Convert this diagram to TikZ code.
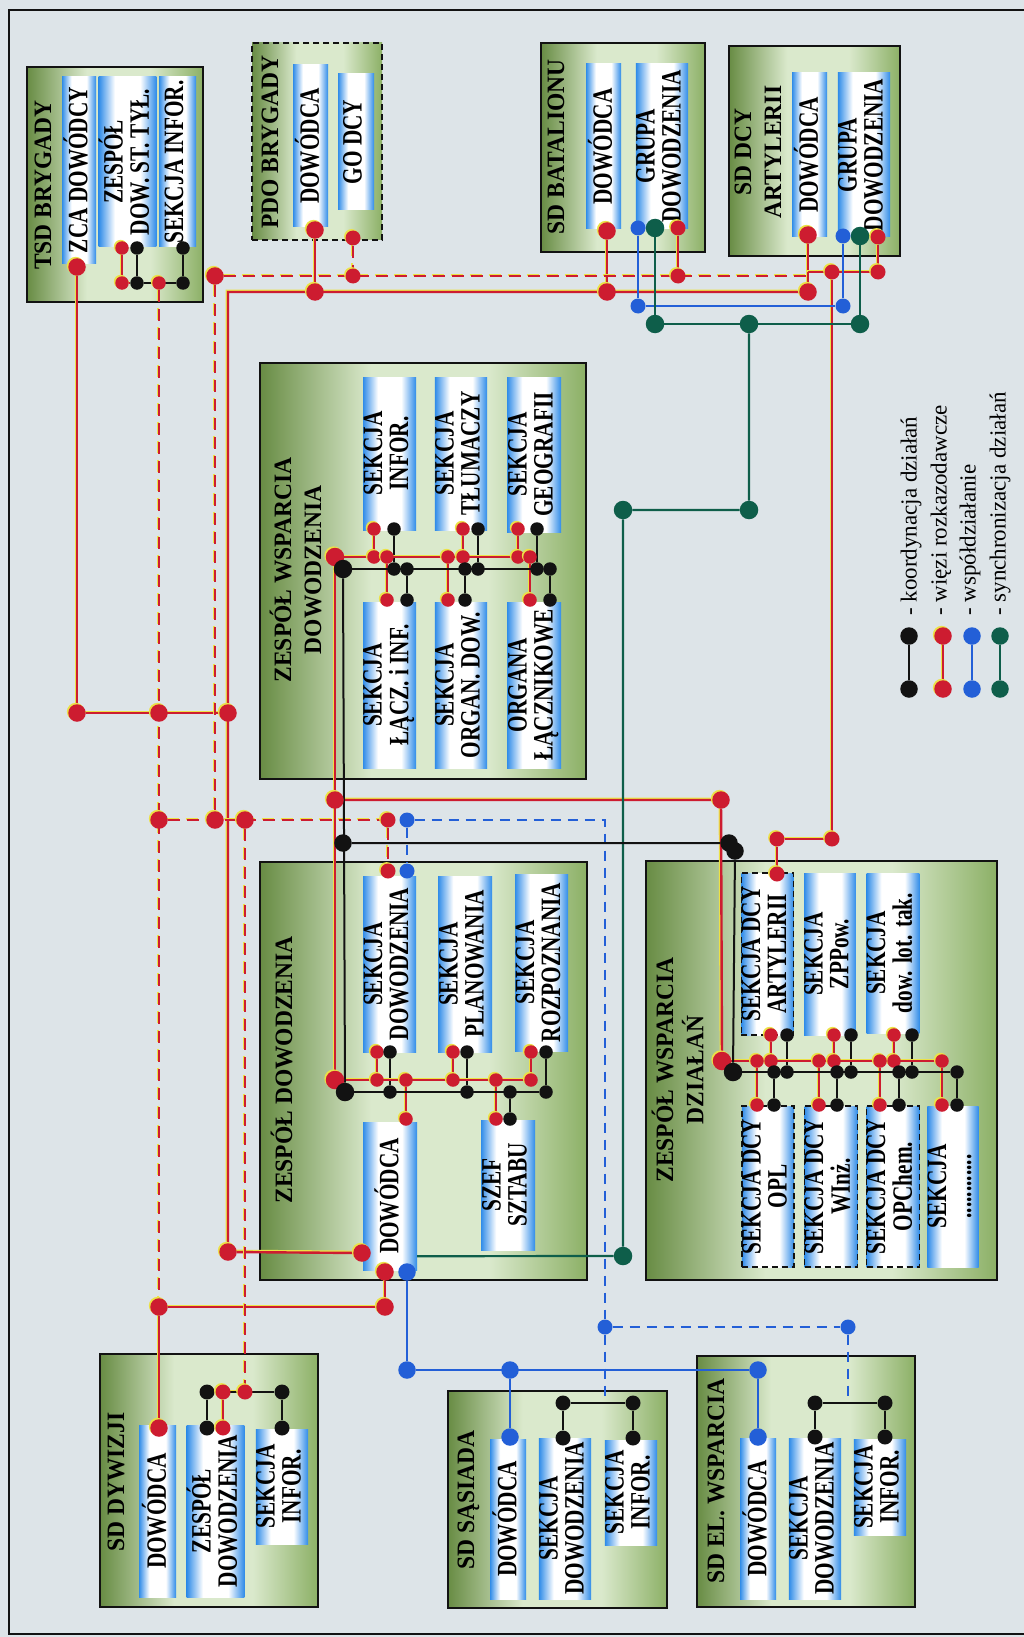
\documentclass[tikz,border=0pt]{standalone}
\usepackage{fontspec}
\usepackage{graphicx}
\setmainfont{Liberation Serif}
\newfontfamily\condfont{Liberation Serif}[FakeStretch=0.76]
\newfontfamily\headfont{Liberation Serif}[FakeStretch=0.94]
\usetikzlibrary{shadows}

\definecolor{bgc}{RGB}{221,228,232}
\definecolor{cred}{RGB}{205,28,48}
\definecolor{cyel}{RGB}{236,226,70}
\definecolor{cblk}{RGB}{18,18,18}
\definecolor{cblue}{RGB}{35,95,215}
\definecolor{cgrn}{RGB}{14,94,74}
\definecolor{bblue}{RGB}{48,140,232}
\definecolor{gdark}{RGB}{104,140,68}
\definecolor{glight}{RGB}{218,233,204}
\definecolor{gmid}{RGB}{140,176,102}

\pgfdeclarehorizontalshading{barshade}{100bp}{color(0bp)=(bblue); color(25bp)=(bblue); color(32bp)=(bblue!50!white); color(39bp)=(white); color(61bp)=(white); color(68bp)=(bblue!50!white); color(75bp)=(bblue); color(100bp)=(bblue)}
\pgfdeclarehorizontalshading{panelshade}{100bp}{color(0bp)=(gdark); color(25bp)=(gdark); color(42bp)=(glight); color(60bp)=(glight); color(75bp)=(gmid); color(100bp)=(gmid)}

\pgfdeclarelayer{panels}
\pgfdeclarelayer{wires}
\pgfsetlayers{panels,wires,main}

\newcommand\barfont{\condfont\bfseries\fontsize{28}{25}\selectfont}
\newcommand\headfontsize{\headfont\bfseries\fontsize{25}{30}\selectfont}
\newcommand\vt[1]{\rotatebox{90}{\begin{tabular}{@{}c@{}}#1\end{tabular}}}

\tikzset{
  panelbox/.style={draw=cblk, line width=1.4pt, shading=panelshade, inner sep=0pt},
  barbox/.style={shading=barshade, inner sep=0pt, font=\barfont},
  dashbar/.style={draw=cblk, line width=1.3pt, dash pattern=on 6pt off 4pt},
  headtext/.style={inner sep=0pt, font=\headfontsize},
  jdot/.style={circle, inner sep=0pt, minimum size=17.5pt},
  bigdot/.style={minimum size=18.5pt},
  mdot/.style={minimum size=15pt},
  smalldot/.style={minimum size=13.5pt},
  rdot/.style={jdot, fill=cred, drop shadow={shadow xshift=-1.4pt, shadow yshift=1.4pt, fill=cyel, opacity=1}},
  kdot/.style={jdot, fill=cblk},
  bdot/.style={jdot, fill=cblue},
  gdot/.style={jdot, fill=cgrn},
  rl/.style={draw=cred, line width=2.4pt, preaction={draw=cyel, line width=2pt, transform canvas={xshift=-1.4pt, yshift=1.4pt}}},
  rdl/.style={draw=cred, line width=2.4pt, dash pattern=on 12pt off 7pt,
    preaction={draw=cyel, line width=2pt, dash pattern=on 12pt off 7pt, transform canvas={xshift=-1.4pt, yshift=1.4pt}}},
  kl/.style={draw=cblk, line width=2pt},
  bl/.style={draw=cblue, line width=2.6pt},
  bdl/.style={draw=cblue, line width=2.4pt, dash pattern=on 10pt off 7pt},
  gl/.style={draw=cgrn, line width=2.2pt},
}

% boxes given by their corners
\newcommand\panelnode[6][]{%
  \pgfmathsetmacro\pcx{(#3+#5)/2}\pgfmathsetmacro\pcy{(#4+#6)/2}%
  \pgfmathsetmacro\pw{#5-#3}\pgfmathsetmacro\ph{#6-#4}%
  \node[panelbox,#1,minimum width=\pw pt,minimum height=\ph pt] (#2) at (\pcx,\pcy) {};}
\newcommand\barnode[7][]{%
  \pgfmathsetmacro\pcx{(#3+#5)/2}\pgfmathsetmacro\pcy{(#4+#6)/2}%
  \pgfmathsetmacro\pw{#5-#3}\pgfmathsetmacro\ph{#6-#4}%
  \node[barbox,#1,minimum width=\pw pt,minimum height=\ph pt] (#2) at (\pcx,\pcy) {\vt{#7}};}

% junction dots
\newcommand\rdt[3][]{\node[rdot,#1] (#2) at (#3) {};}
\newcommand\kdt[3][]{\node[kdot,#1] (#2) at (#3) {};}
\newcommand\bdt[3][]{\node[bdot,#1] (#2) at (#3) {};}
\newcommand\gdt[3][]{\node[gdot,#1] (#2) at (#3) {};}
\newcommand\rlink[5][smalldot]{\rdt[#1]{#2}{#3}\rdt[#1]{#4}{#5}%
  \begin{pgfonlayer}{wires}\draw[rl] (#2) -- (#4);\end{pgfonlayer}}
\newcommand\klink[5][smalldot]{\kdt[#1]{#2}{#3}\kdt[#1]{#4}{#5}%
  \begin{pgfonlayer}{wires}\draw[kl] (#2) -- (#4);\end{pgfonlayer}}

\begin{document}
\begin{tikzpicture}[x=1pt,y=-1pt]
\useasboundingbox (0,0) rectangle (1024,1637);

\begin{pgfonlayer}{panels}
\fill[bgc] (0,0) rectangle (1024,1637);
\draw[cblk, line width=1.5pt] (1024,10) -- (9,10) -- (9,1634) -- (1024,1634);

% TSD BRYGADY
\panelnode{tsd}{27}{67}{203}{302}
\node[headtext] (tsdT) at (45,185) {\vt{TSD BRYGADY}};
\barnode{zca}{62}{77}{96}{263}{ZCA DOWÓDCY}
\barnode{zdst}{102}{77}{153}{247}{ZESPÓŁ\\DOW. ST. TYŁ.}
\barnode{tsdI}{159}{77}{196}{247}{SEKCJA INFOR.}

% PDO BRYGADY
\panelnode[dash pattern=on 6pt off 4pt]{pdo}{252}{43}{382}{240}
\node[headtext] (pdoT) at (272,142) {\vt{PDO BRYGADY}};
\barnode{pdoD}{293}{65}{328}{227}{DOWÓDCA}
\barnode{pdoG}{338}{74}{374}{210}{GO DCY}

% SD BATALIONU
\panelnode{bat}{541}{43}{705}{252}
\node[headtext] (batT) at (558,147) {\vt{SD BATALIONU}};
\barnode{batD}{586}{64}{621}{229}{DOWÓDCA}
\barnode{batG}{637}{64}{687}{229}{GRUPA\\DOWODZENIA}

% SD DCY ARTYLERII
\panelnode{art}{729}{46}{900}{256}
\node[headtext] (artT) at (760,152) {\vt{SD DCY\\ARTYLERII}};
\barnode{artD}{792}{73}{827}{237}{DOWÓDCA}
\barnode{artG}{839}{73}{889}{237}{GRUPA\\DOWODZENIA}

% ZESPÓŁ WSPARCIA DOWODZENIA
\panelnode{zwd}{260}{363}{586}{779}
\node[headtext] (zwdT) at (300,570) {\vt{ZESPÓŁ WSPARCIA\\DOWODZENIA}};
\barnode{sinf}{363}{377}{416}{530}{SEKCJA\\INFOR.}
\barnode{stlum}{435}{377}{487}{530}{SEKCJA\\TŁUMACZY}
\barnode{sgeo}{507}{377}{561}{532}{SEKCJA\\GEOGRAFII}
\barnode{slacz}{363}{602}{416}{768}{SEKCJA\\ŁĄCZ. i INF.}
\barnode{sorg}{435}{602}{487}{768}{SEKCJA\\ORGAN. DOW.}
\barnode{olacz}{507}{602}{561}{768}{ORGANA\\ŁĄCZNIKOWE}

% ZESPÓŁ DOWODZENIA
\panelnode{zd}{260}{862}{587}{1280}
\node[headtext] (zdT) at (286,1070) {\vt{ZESPÓŁ DOWODZENIA}};
\barnode{sdow}{363}{876}{416}{1052}{SEKCJA\\DOWODZENIA}
\barnode{splan}{438}{876}{492}{1052}{SEKCJA\\PLANOWANIA}
\barnode{sroz}{515}{874}{568}{1051}{SEKCJA\\ROZPOZNANIA}
\barnode{zdD}{363}{1122}{417}{1270}{DOWÓDCA}
\barnode{szef}{481}{1120}{535}{1250}{SZEF\\SZTABU}

% ZESPÓŁ WSPARCIA DZIAŁAŃ
\panelnode{zwdz}{646}{861}{997}{1280}
\node[headtext] (zwdzT) at (682,1070) {\vt{ZESPÓŁ WSPARCIA\\DZIAŁAŃ}};
\barnode[dashbar]{sart}{742}{873}{793}{1035}{SEKCJA DCY\\ARTYLERII}
\barnode{szpp}{805}{873}{855}{1035}{SEKCJA\\ZPPow.}
\barnode{slot}{868}{873}{918}{1033}{SEKCJA\\dow. lot. tak.}
\barnode[dashbar]{sopl}{743}{1106}{793}{1267}{SEKCJA DCY\\OPL}
\barnode[dashbar]{sinz}{806}{1106}{856}{1267}{SEKCJA DCY\\WInż.}
\barnode[dashbar]{sopch}{868}{1106}{918}{1267}{SEKCJA DCY\\OPChem.}
\barnode{sdots}{928}{1106}{978}{1267}{SEKCJA\\............}

% SD DYWIZJI
\panelnode{dyw}{100}{1354}{318}{1607}
\node[headtext] (dywT) at (118,1482) {\vt{SD DYWIZJI}};
\barnode{dywD}{139}{1425}{176}{1597}{DOWÓDCA}
\barnode{dywZ}{190}{1425}{241}{1597}{ZESPÓŁ\\DOWODZENIA}
\barnode{dywI}{257}{1429}{307}{1544}{SEKCJA\\INFOR.}

% SD SĄSIADA
\panelnode{sas}{448}{1391}{667}{1608}
\node[headtext] (sasT) at (468,1500) {\vt{SD SĄSIADA}};
\barnode{sasD}{490}{1439}{526}{1599}{DOWÓDCA}
\barnode{sasS}{541}{1438}{589}{1599}{SEKCJA\\DOWODZENIA}
\barnode{sasI}{606}{1440}{656}{1545}{SEKCJA\\INFOR.}

% SD EL. WSPARCIA
\panelnode{elw}{697}{1356}{915}{1607}
\node[headtext] (elwT) at (718,1481) {\vt{SD EL. WSPARCIA}};
\barnode{elwD}{740}{1438}{776}{1599}{DOWÓDCA}
\barnode{elwS}{791}{1438}{839}{1599}{SEKCJA\\DOWODZENIA}
\barnode{elwI}{855}{1439}{905}{1535}{SEKCJA\\INFOR.}
\end{pgfonlayer}

% ---------- junction dots ----------
% brigade and battalion links
\rdt{pdoDd}{315,230}
\rdt{pdoJ}{315,292}
\rdt[mdot]{pdoGd}{353,238}
\rdt[mdot]{pdoGj}{353,276}
\rdt{batDd}{607,231}
\rdt{batJ}{607,292}
\rdt[mdot]{batGd}{678,228}
\rdt[mdot]{batGj}{678,276}
\rdt{artDd}{808,235}
\rdt{artJ}{808,292}
\rdt[mdot]{artGd}{878,237}
\rdt[mdot]{artGj}{878,272}
\rdt[mdot]{artX}{832,272}
\rdt[mdot]{artY}{832,839}
\rdt[mdot]{artZ}{777,839}
\rdt[mdot]{sartT}{777,874}
\bdt[mdot]{batGb}{638,228}
\bdt[mdot]{blT1}{638,306}
\bdt[mdot]{blT2}{843,306}
\bdt[mdot]{artGb}{843,236}
\gdt[bigdot]{batGg}{655,228}
\gdt[bigdot]{gT1}{655,324}
\gdt[bigdot]{gT2}{749,324}
\gdt[bigdot]{gT3}{860,324}
\gdt[bigdot]{artGg}{860,236}
\gdt[bigdot]{gM1}{749,510}
\gdt[bigdot]{gM2}{623,510}
\gdt[bigdot]{gB}{623,1256}

% TSD
\rdt{zcaDd}{77,267}
\rdt{leftJ}{77,713}
\rdt{dashJ}{159,713}
\rdt{midJ}{228,713}
\rdt[smalldot]{t1}{122,248}
\kdt[smalldot]{t2}{137,248}
\kdt[smalldot]{t3}{183,248}
\rdt[smalldot]{t4}{122,283}
\kdt[smalldot]{t5}{137,283}
\rdt[smalldot]{tsdR}{159,283}
\kdt[smalldot]{t6}{183,283}

% dashed network
\rdt{dB1}{215,276}
\rdt{dA2}{159,820}
\rdt{dB2}{215,820}
\rdt{dC1}{245,820}
\rdt[mdot]{sdowR}{388,820}
\bdt[mdot]{sdowB}{407,820}
\rdt[mdot]{sdowRt}{388,871}
\bdt[mdot]{sdowBt}{407,871}
\bdt[mdot]{bd1}{605,1327}
\bdt[mdot]{bd2}{848,1327}

% division, neighbour and support
\rdt{dA3}{159,1307}
\rdt{dywDd}{159,1428}
\rdt{zdDr}{385,1307}
\rdt{zdDb}{385,1272}
\bdt{zdDbb}{407,1272}
\rdt{zdDl}{362,1253}
\rdt{leftL}{228,1252}
\bdt{bl1}{407,1370}
\bdt{bl2}{510,1370}
\bdt{sasDd}{510,1437}
\bdt{bl3}{758,1370}
\bdt{elwDd}{758,1437}

% central trunks
\rdt[bigdot]{zwdRc}{335,557}
\kdt[bigdot]{zwdBc}{343,569}
\rdt{cR1}{335,800}
\rdt{cR2}{721,800}
\kdt{cK1}{343,843}
\kdt{cK2}{729,843}
\kdt{cK3}{735,851}
\rdt[bigdot]{zdRc}{335,1080}
\kdt[bigdot]{zdBc}{345,1092}
\rdt[bigdot]{wRc}{722,1061}
\kdt[bigdot]{wBc}{733,1072}

% ZESPÓŁ WSPARCIA DOWODZENIA sections
\rlink{w1a}{374,529}{w1b}{374,557}
\rlink{w1c}{387,557}{w1d}{387,600}
\klink{w1e}{394,529}{w1f}{394,569}
\klink{w1g}{407,569}{w1h}{407,600}
\rlink{w2a}{463,529}{w2b}{463,557}
\rlink{w2c}{448,557}{w2d}{448,600}
\klink{w2e}{478,529}{w2f}{478,569}
\klink{w2g}{465,569}{w2h}{465,600}
\rlink{w3a}{518,529}{w3b}{518,557}
\rlink{w3c}{530,557}{w3d}{530,600}
\klink{w3e}{537,529}{w3f}{537,569}
\klink{w3g}{550,569}{w3h}{550,600}

% ZESPÓŁ DOWODZENIA sections
\rlink{z1a}{377,1052}{z1b}{377,1080}
\klink{z1c}{390,1052}{z1d}{390,1092}
\rlink{z1e}{406,1080}{z1f}{406,1119}
\rlink{z2a}{453,1052}{z2b}{453,1080}
\klink{z2c}{467,1052}{z2d}{467,1092}
\rlink{z2e}{496,1080}{z2f}{496,1119}
\klink{z2g}{510,1092}{z2h}{510,1119}
\rlink{z3a}{531,1052}{z3b}{531,1080}
\klink{z3c}{546,1052}{z3d}{546,1092}

% ZESPÓŁ WSPARCIA DZIAŁAŃ sections
\rlink{v1a}{771,1035}{v1b}{771,1061}
\klink{v1c}{787,1035}{v1d}{787,1072}
\rlink{v1e}{757,1061}{v1f}{757,1105}
\klink{v1g}{774,1072}{v1h}{774,1105}
\rlink{v2a}{834,1035}{v2b}{834,1061}
\klink{v2c}{851,1035}{v2d}{851,1072}
\rlink{v2e}{819,1061}{v2f}{819,1105}
\klink{v2g}{837,1072}{v2h}{837,1105}
\rlink{v3a}{894,1035}{v3b}{894,1061}
\klink{v3c}{912,1035}{v3d}{912,1072}
\rlink{v3e}{880,1061}{v3f}{880,1105}
\klink{v3g}{899,1072}{v3h}{899,1105}
\rlink{v4e}{942,1061}{v4f}{942,1105}
\klink{v4g}{957,1072}{v4h}{957,1105}

% SD DYWIZJI, SD SĄSIADA, SD EL. WSPARCIA internals
\klink[mdot]{d1}{207,1392}{d5}{207,1428}
\rlink[mdot]{d2}{223,1392}{d6}{223,1428}
\klink[mdot]{d4}{282,1392}{d7}{282,1428}
\rdt[mdot]{d3}{245,1392}
\klink[mdot]{s1}{563,1403}{s3}{563,1438}
\klink[mdot]{s2}{633,1403}{s4}{633,1438}
\klink[mdot]{e1}{815,1403}{e3}{815,1437}
\klink[mdot]{e2}{885,1403}{e4}{885,1437}

% free ends and bends
\coordinate (c292) at (228,292);
\coordinate (c272) at (808,272);
\coordinate (c276) at (808,276);
\coordinate (sasLink) at (605,1403);
\coordinate (elwLink) at (848,1403);
\coordinate (gstart) at ([yshift=14pt]zdD.south east);

% ---------- connectors ----------
\begin{pgfonlayer}{wires}
% więzi rozkazodawcze
\draw[rl] (pdoDd) -- (pdoJ);
\draw[rl] (batDd) -- (batJ);
\draw[rl] (artDd) -- (artJ);
\draw[rl] (artJ) -- (c292) -- (leftL) -- (zdDl);
\draw[rl] (artGd) -- (artGj) -- (c272);
\draw[rl] (artX) -- (artY) -- (artZ) -- (sartT);
\draw[rl] (batGd) -- (batGj);
\draw[rl] (zcaDd) -- (leftJ) -- (midJ);
\draw[rl] (zwdRc) -- (zdRc);
\draw[rl] (cR1) -- (cR2) -- (wRc);
\draw[rl] (zdDb) -- (zdDr) -- (dA3) -- (dywDd);
\draw[rl] (zwdRc) -- (w3c);
\draw[rl] (zdRc) -- (z3b);
\draw[rl] (wRc) -- (v4e);
\draw[rl] (t1) -- (t4) -- (t5);
\draw[rl] (d2) -- (d3);
% dashed red links
\draw[rdl] (tsdR) -- (dA3);
\draw[rdl] (dB1) -- (c276);
\draw[rdl] (dB1) -- (dB2);
\draw[rdl] (pdoGd) -- (pdoGj);
\draw[rdl] (dA2) -- (sdowR);
\draw[rdl] (dC1) -- (d3);
\draw[rdl] (sdowR) -- (sdowRt);
% współdziałanie
\draw[bdl] (sdowB) -- (sdowBt);
\draw[bdl] (sdowB) -| (bd1);
\draw[bdl] (bd1) -- (sasLink);
\draw[bdl] (bd1) -- (bd2) -- (elwLink);
\draw[bl] (zdDbb) -- (bl1) -- (bl3) -- (elwDd);
\draw[bl] (bl2) -- (sasDd);
\draw[bl] (batGb) -- (blT1) -- (blT2) -- (artGb);
% synchronizacja działań
\draw[gl] (batGg) -- (gT1) -- (gT3) -- (artGg);
\draw[gl] (gstart) -- (gB) -- (gM2) -- (gM1) -- (gT2);
% koordynacja działań
\draw[kl] (zwdBc) -- (zdBc);
\draw[kl] (cK1) -- (cK2) -- (cK3) -- (wBc);
\draw[kl] (zwdBc) -- (w3g);
\draw[kl] (zdBc) -- (z3d);
\draw[kl] (wBc) -- (v4g);
\draw[kl] (t2) -- (t5) -- (t6) -- (t3);
\draw[kl] (d1) -- (d4);
\draw[kl] (s1) -- (s2);
\draw[kl] (e1) -- (e2);
\end{pgfonlayer}

% ---------- legend ----------
\klink[jdot]{lk1}{909,636}{lk2}{909,689}
\rlink[jdot]{lr1}{943,636}{lr2}{943,689}
\node[bdot] (lb1) at (972,636) {};
\node[bdot] (lb2) at (972,689) {};
\node[gdot] (lg1) at (1000,636) {};
\node[gdot] (lg2) at (1000,689) {};
\begin{pgfonlayer}{wires}
\draw[bl] (lb1) -- (lb2);
\draw[gl] (lg1) -- (lg2);
\end{pgfonlayer}
\begin{scope}[every node/.style={anchor=south, inner sep=0pt, font=\fontsize{23}{28}\selectfont}]
\node (lt1) at (911,616) {\rotatebox{90}{- koordynacja działań}};
\node (lt2) at (941,616) {\rotatebox{90}{- więzi rozkazodawcze}};
\node (lt3) at (970,616) {\rotatebox{90}{- współdziałanie}};
\node (lt4) at (1000,616) {\rotatebox{90}{- synchronizacja działań}};
\end{scope}
\end{tikzpicture}
\end{document}
